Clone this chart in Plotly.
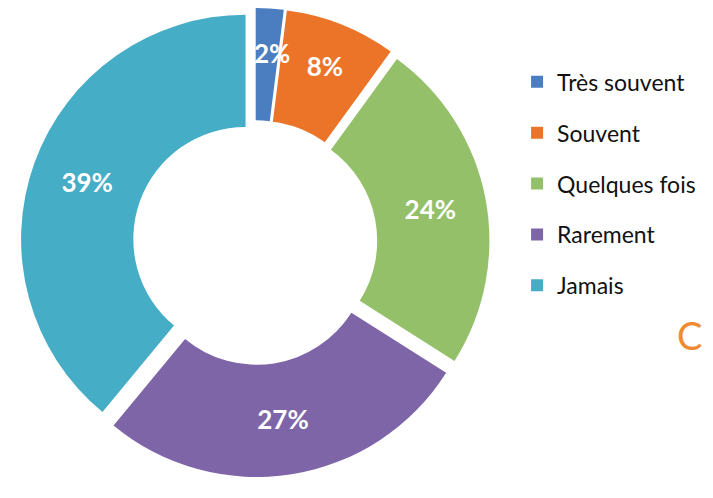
import math
import plotly.graph_objects as go

labels = ["Très souvent", "Souvent", "Quelques fois", "Rarement", "Jamais"]
values = [2, 8, 24, 27, 39]
colors = ["#4A7EC1", "#EB7429", "#94C06A", "#7E65A8", "#46ADC7"]

W, H = 713, 498
dom_x = [0.0, 0.693]
dom_y = [0.058, 1.0]

total = sum(values)
# the thinnest slice gets its label placed as an annotation (plotly pushes it past the rim)
texts = ["" if i == 0 else "%{percent:.0%}" for i in range(len(values))]

fig = go.Figure()
fig.add_trace(go.Pie(
    labels=labels, values=values, hole=0.5, sort=False, direction="clockwise", rotation=0,
    marker=dict(colors=colors, line=dict(color="white", width=0)),
    pull=[0.045] * len(values),
    texttemplate=texts, textposition="inside", insidetextorientation="horizontal",
    textfont=dict(family="Lato", size=26, color="white", weight="bold"),
    showlegend=False, domain=dict(x=dom_x, y=dom_y),
    hoverinfo="label+percent",
))
for lab, col in zip(labels, colors):
    fig.add_trace(go.Scatter(
        x=[None], y=[None], mode="markers", name=lab, legendgroup=lab,
        marker=dict(symbol="square", size=15, color=col),
    ))

# label of first slice
cx = (dom_x[0] + dom_x[1]) / 2 * W
cy = (1 - (dom_y[0] + dom_y[1]) / 2) * H
ang = math.radians((values[0] / 2) / total * 360 + 1.5)
rad = 190
fig.add_annotation(text=f"{values[0] / total:.0%}", x=(cx + rad * math.sin(ang)) / W,
                   y=1 - (cy - rad * math.cos(ang)) / H, xref="paper", yref="paper",
                   showarrow=False, xanchor="center", yanchor="middle",
                   font=dict(family="Lato", size=26, color="white", weight="bold"))

fig.add_annotation(text="C", x=0.976, y=1 - 327 / 498, xref="paper", yref="paper", showarrow=False,
                   font=dict(family="Lato", size=38, color="#F08A30"), xanchor="right", yanchor="middle")
fig.update_layout(
    width=W, height=H, margin=dict(l=0, r=0, t=0, b=0),
    paper_bgcolor="white", plot_bgcolor="white",
    xaxis=dict(visible=False), yaxis=dict(visible=False),
    uniformtext=dict(minsize=26, mode="show"),
    legend=dict(x=0.714, y=0.895, xanchor="left", yanchor="top", tracegroupgap=18,
                bgcolor="rgba(0,0,0,0)",
                font=dict(family="Lato", size=23, color="#111111"), itemsizing="constant",
                itemwidth=30),
)
fig.write_html("out.html")
